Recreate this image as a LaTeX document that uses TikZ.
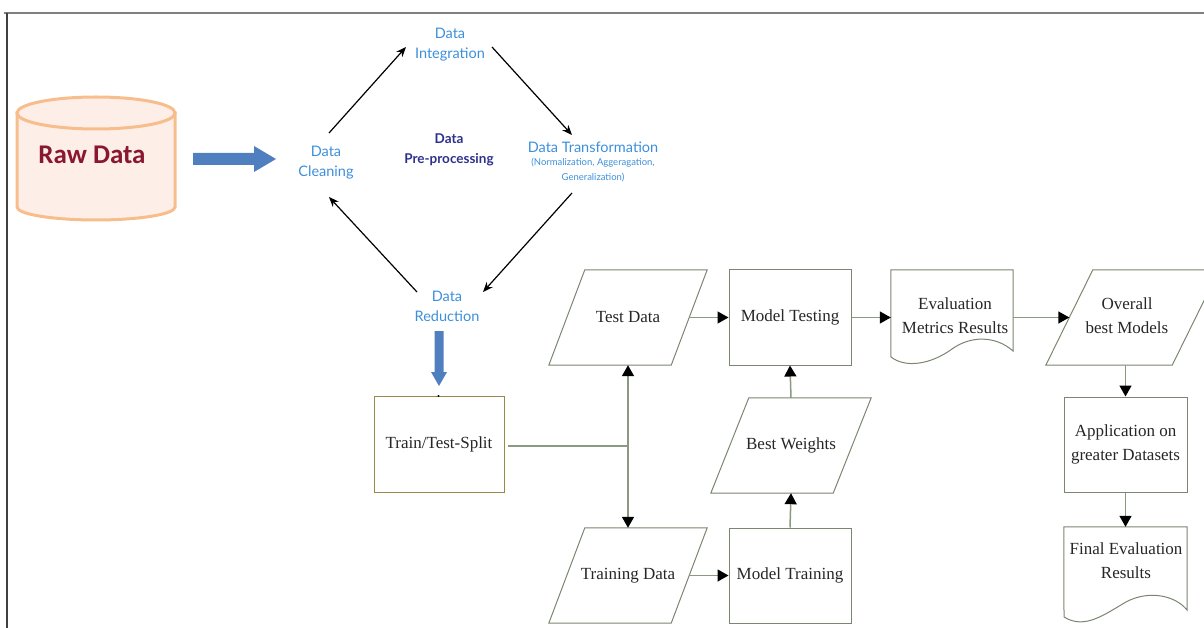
\documentclass[tikz,border=0pt]{standalone}
\usepackage{fontspec}
\setmainfont{Liberation Serif}
\newfontfamily\lato{Lato}
\newfontfamily\carl{Carlito}
\usetikzlibrary{arrows.meta}
\definecolor{txtblue}{HTML}{3D8FDB}
\definecolor{navy}{HTML}{2E318C}
\definecolor{rawred}{HTML}{8A1730}
\definecolor{cylfill}{HTML}{FDEFE8}
\definecolor{cylline}{HTML}{F8BD8C}
\definecolor{blockblue}{HTML}{4F7FBE}
\definecolor{shapeline}{HTML}{7A8670}
\definecolor{conn}{HTML}{8A9A80}
\definecolor{splitline}{HTML}{9A8A4A}
\tikzset{
  flowtxt/.style={font=\fontsize{17}{24}\selectfont, text=black!85, align=center},
  pre/.style={font=\lato\fontsize{14.5}{20}\selectfont, text=txtblue, align=center},
  diag/.style={-{Stealth[length=10pt,width=8pt]}, line width=1.2pt, black},
  flow/.style={-{Triangle[length=11pt,width=12pt,color=black]}, line width=1.5pt, conn},
  boxn/.style={draw=shapeline, line width=1pt, minimum width=122pt, minimum height=95pt, inner sep=0pt, flowtxt},
  hid/.style={minimum width=122pt, minimum height=95pt, inner sep=0pt, flowtxt},
  shp/.style={draw=shapeline, line width=1pt}
}
\begin{document}
\begin{tikzpicture}[x=1pt,y=-1pt]
\useasboundingbox (0,0) rectangle (1204,628);
% frame
\draw[line width=2pt, black!50] (4,13) -- (1204,13);
\draw[line width=1.5pt, black!75] (7,13) -- (7,628);

% cylinder
\filldraw[fill=cylfill, draw=cylline, line width=3pt]
  (17,113) -- (17,207) arc[start angle=180,end angle=360,x radius=79pt,y radius=13pt] -- (175,113) -- cycle;
\filldraw[fill=cylfill, draw=cylline, line width=3pt] (96,113) ellipse [x radius=79pt, y radius=16pt];
\node[font=\carl\bfseries\fontsize{27}{30}\selectfont, text=rawred] (raw) at (92,155) {Raw Data};

% block arrow right
\fill[blockblue] (193,153) -- (254,153) -- (254,146) -- (276,159) -- (254,172) -- (254,165) -- (193,165) -- cycle;

% preprocessing cycle
\node[pre] (clean) at (326,163) {Data\\Cleaning};
\node[pre] (integ) at (450,45) {Data\\Integration};
\node[pre, font=\lato\bfseries\fontsize{13.5}{20}\selectfont, text=navy] (prep) at (449,150) {Data\\Pre-processing};
\node[pre] (trans) at (593,147) {Data Transformation};
\node[pre, font=\lato\fontsize{9.5}{15}\selectfont] (transsub) at (593,170) {(Normalization, Aggeragation,\\Generalization)};
\node[pre] (red) at (447,306) {Data\\Reduction};
\coordinate (c1) at (329,133); \coordinate (i1) at (406,47);
\coordinate (i2) at (492,47); \coordinate (t1) at (572,135);
\coordinate (t2) at (572,193); \coordinate (r1) at (483,292);
\coordinate (r2) at (417,292); \coordinate (c2) at (329,197);
\draw[diag] (c1) -- (i1);
\draw[diag] (i2) -- (t1);
\draw[diag] (t2) -- (r1);
\draw[diag] (r2) -- (c2);

% blue down arrow
\fill[blockblue] (434.5,331) -- (434.5,372) -- (431,372) -- (439,386) -- (447,372) -- (443.5,372) -- (443.5,331) -- cycle;

% train/test split
\node[flowtxt, draw=splitline, line width=1pt, minimum width=130pt, minimum height=96pt, inner sep=0pt] (split) at (439,444) {Train/Test-Split};
\fill[black] (438.5,396) circle (1.2pt);

% parallelograms (hidden mid-rectangles + outlines)
\node[hid] (testd) at (628,317.5) {Test Data};
\draw[shp] ([xshift=18pt]testd.north west) -- ([xshift=18pt]testd.north east) -- ([xshift=-18pt]testd.south east) -- ([xshift=-18pt]testd.south west) -- cycle;
\node[hid] (traind) at (628,575.5) {Training Data};
\draw[shp] ([xshift=18pt]traind.north west) -- ([xshift=18pt]traind.north east) -- ([xshift=-18pt]traind.south east) -- ([xshift=-18pt]traind.south west) -- cycle;
\node[hid] (bestw) at (791,445.5) {Best Weights};
\draw[shp] ([xshift=19pt]bestw.north west) -- ([xshift=19pt]bestw.north east) -- ([xshift=-19pt]bestw.south east) -- ([xshift=-19pt]bestw.south west) -- cycle;
\node[hid, minimum width=126pt] (overall) at (1132.5,317.5) {};
\node[flowtxt] (overalltxt) at (1127,316) {Overall\\best Models};
\draw[shp] ([xshift=23.5pt]overall.north west) -- ([xshift=23.5pt]overall.north east) -- ([xshift=-23.5pt]overall.south east) -- ([xshift=-23.5pt]overall.south west) -- cycle;

% rectangles
\node[boxn] (mtest) at (790,317.5) {Model Testing};
\node[boxn] (mtrain) at (790,575.5) {Model Training};
\node[boxn, minimum width=123pt] (app) at (1125.5,444.5) {Application on\\greater Datasets};

% documents
\node[hid, minimum height=87pt] (eval) at (952,313.5) {};
\node[flowtxt] (evaltxt) at (955,316) {Evaluation\\Metrics Results};
\draw[shp] (eval.south west |- 0,357) -- (eval.north west) -- (eval.north east) -- (1013,351)
  .. controls (995,335) and (970,336) .. (952,349) .. controls (930,365) and (905,368) .. (891,357);
\node[hid, minimum width=123pt, minimum height=90pt] (final) at (1125.5,572) {};
\node[flowtxt] (finaltxt) at (1126,561) {Final Evaluation\\Results};
\draw[shp] (1064,617) -- (final.north west) -- (final.north east) -- (1187,610)
  .. controls (1175,595) and (1148,590) .. (1126,602) .. controls (1105,614) and (1085,630) .. (1064,617);

% connectors
\coordinate (junc) at (628,446);
\draw[conn, line width=1.5pt] ([xshift=3pt]split.east |- junc) -- (junc);
\draw[flow] (junc) -- (testd.south);
\draw[flow] (junc) -- (traind.north);
\draw[flow] (testd.east) -- (mtest.west);
\draw[flow] (traind.east) -- (mtrain.west);
\draw[flow] (mtrain.north) -- (bestw.south);
\draw[flow] (bestw.north) -- (mtest.south);
\draw[flow] (mtest.east) -- (mtest.east -| eval.west);
\draw[flow] (eval.east |- mtest.east) -- (overall.west);
\draw[flow] (app.north |- overall.south) -- (app.north);
\draw[flow] (app.south) -- (final.north);
\end{tikzpicture}
\end{document}
